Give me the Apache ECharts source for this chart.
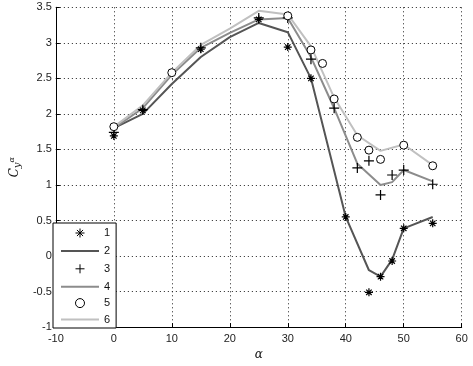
<!DOCTYPE html>
<html>
<head>
<meta charset="utf-8">
<script src="https://cdn.jsdelivr.net/npm/echarts@6/dist/echarts.min.js"></script>
<style>html,body{margin:0;padding:0;background:#fff}#c{width:473px;height:366px}</style>
</head>
<body>
<div id="c"></div>
<script>
// Data
const s1x = [0, 5, 15, 25, 30, 34, 40, 44, 46, 48, 50, 55];
const s1y = [1.69, 2.05, 2.91, 3.33, 2.94, 2.5, 0.55, -0.51, -0.29, -0.07, 0.39, 0.46];
const s2x = [0, 5, 10, 15, 20, 25, 30, 34, 40, 44, 46, 48, 50, 55];
const s2y = [1.8, 2.0, 2.42, 2.8, 3.08, 3.28, 3.15, 2.5, 0.55, -0.2, -0.29, -0.05, 0.39, 0.55];
const s3x = [0, 5, 15, 25, 30, 34, 38, 42, 44, 46, 48, 50, 55];
const s3y = [1.74, 2.06, 2.93, 3.35, 3.35, 2.77, 2.08, 1.24, 1.34, 0.86, 1.14, 1.21, 1.01];
const s4x = [0, 5, 10, 15, 20, 25, 30, 34, 38, 42, 46, 48, 50, 55];
const s4y = [1.8, 2.08, 2.55, 2.93, 3.14, 3.33, 3.35, 2.8, 2.08, 1.3, 1.0, 1.04, 1.21, 1.05];
const s5x = [0, 10, 25, 30, 34, 36, 38, 42, 44, 46, 50, 55];
const s5y = [1.82, 2.58, 3.51, 3.38, 2.9, 2.71, 2.21, 1.67, 1.49, 1.36, 1.56, 1.27];
const s6x = [0, 5, 10, 15, 20, 25, 30, 34, 38, 42, 46, 50, 55];
const s6y = [1.82, 2.12, 2.58, 2.97, 3.2, 3.45, 3.4, 2.95, 2.23, 1.7, 1.48, 1.57, 1.28];
const xTicks = [-10, 0, 10, 20, 30, 40, 50, 60];
const yTicks = [-1, -0.5, 0, 0.5, 1, 1.5, 2, 2.5, 3, 3.5];
const names = ['1', '2', '3', '4', '5', '6'];

const pair = (xs, ys) => xs.map((x, i) => [x, ys[i]]);
const STAR = 'path://M0,5L10,5M5,0L5,10M1.6,1.6L8.4,8.4M8.4,1.6L1.6,8.4';
const PLUS = 'path://M0,5L10,5M5,0L5,10';
const BAR = 'path://M0,0L38,0L38,2L0,2Z';
const FONT = 'Liberation Sans';
const C2 = '#555', C4 = '#8c8c8c', C6 = '#c0c0c0';

function markerSeries(name, data, symbol, size) {
  const circ = symbol === 'circle';
  return {
    name, type: 'line', data, symbol, symbolSize: size, showSymbol: true,
    lineStyle: { width: 0, opacity: 0 },
    itemStyle: { color: circ ? '#fff' : 'none', borderColor: '#000', borderWidth: circ ? 1 : 1.2 },
    z: 5, animation: false
  };
}
function lineSeries(name, data, color) {
  return {
    name, type: 'line', data, symbol: 'none', showSymbol: false,
    lineStyle: { width: 2, color }, itemStyle: { color }, z: 3, animation: false
  };
}

const markerStyle = { color: 'none', borderColor: '#000', borderWidth: 1 };
const chart = echarts.init(document.getElementById('c'));
chart.setOption({
  animation: false,
  grid: { left: 46.7, right: 11.3, top: 7.3, bottom: 32, containLabel: false },
  xAxis: {
    type: 'value', min: xTicks[0], max: xTicks[xTicks.length - 1], interval: 10,
    name: 'α', nameLocation: 'middle', nameGap: 21,
    nameTextStyle: { fontFamily: 'DejaVu Serif', fontStyle: 'italic', fontSize: 12, color: '#111' },
    axisLine: { onZero: false, lineStyle: { color: '#000', width: 1 } },
    axisTick: { inside: true, length: 4, lineStyle: { color: '#000' } },
    axisLabel: { fontFamily: FONT, fontSize: 11, color: '#222', margin: 6 },
    splitLine: { show: true, lineStyle: { type: [1, 3], color: '#222', width: 1 } }
  },
  yAxis: {
    type: 'value', min: yTicks[0], max: yTicks[yTicks.length - 1], interval: 0.5,
    name: '{c|C}{s|y}{p|α}', nameLocation: 'middle', nameGap: 30, nameRotate: 90,
    nameTextStyle: {
      rich: {
        c: { fontFamily: 'DejaVu Serif', fontStyle: 'italic', fontSize: 12, color: '#111' },
        s: { fontFamily: 'DejaVu Serif', fontStyle: 'italic', fontSize: 10, color: '#111', verticalAlign: 'bottom', padding: [4, 0, 0, 0] },
        p: { fontFamily: 'DejaVu Serif', fontStyle: 'italic', fontSize: 8, color: '#111', verticalAlign: 'top', padding: [0, 0, 6, 0] }
      }
    },
    axisLine: { onZero: false, lineStyle: { color: '#000', width: 1 } },
    axisTick: { inside: true, length: 4, lineStyle: { color: '#000' } },
    axisLabel: { fontFamily: FONT, fontSize: 11, color: '#222', margin: 4 },
    splitLine: { show: true, lineStyle: { type: [1, 3], color: '#222', width: 1 } }
  },
  legend: {
    orient: 'vertical', left: 53, top: 223,
    data: [
      { name: names[0], icon: STAR, itemStyle: markerStyle },
      { name: names[1], icon: BAR, itemStyle: { color: C2, borderWidth: 0 } },
      { name: names[2], icon: PLUS, itemStyle: markerStyle },
      { name: names[3], icon: BAR, itemStyle: { color: C4, borderWidth: 0 } },
      { name: names[4], icon: 'circle', itemStyle: { color: '#fff', borderColor: '#000', borderWidth: 1 } },
      { name: names[5], icon: BAR, itemStyle: { color: C6, borderWidth: 0 } }
    ],
    symbolKeepAspect: true,
    backgroundColor: '#fff', borderColor: '#000', borderWidth: 1, borderRadius: 0,
    padding: [3, 6, 3, 8], itemWidth: 38, itemHeight: 9, itemGap: 5.4,
    textStyle: { fontFamily: FONT, fontSize: 11, color: '#111', lineHeight: 9 },
    selectedMode: false
  },
  series: [
    markerSeries(names[0], pair(s1x, s1y), STAR, 8),
    lineSeries(names[1], pair(s2x, s2y), C2),
    markerSeries(names[2], pair(s3x, s3y), PLUS, 10),
    lineSeries(names[3], pair(s4x, s4y), C4),
    markerSeries(names[4], pair(s5x, s5y), 'circle', 8),
    lineSeries(names[5], pair(s6x, s6y), C6)
  ]
});
</script>
</body>
</html>
